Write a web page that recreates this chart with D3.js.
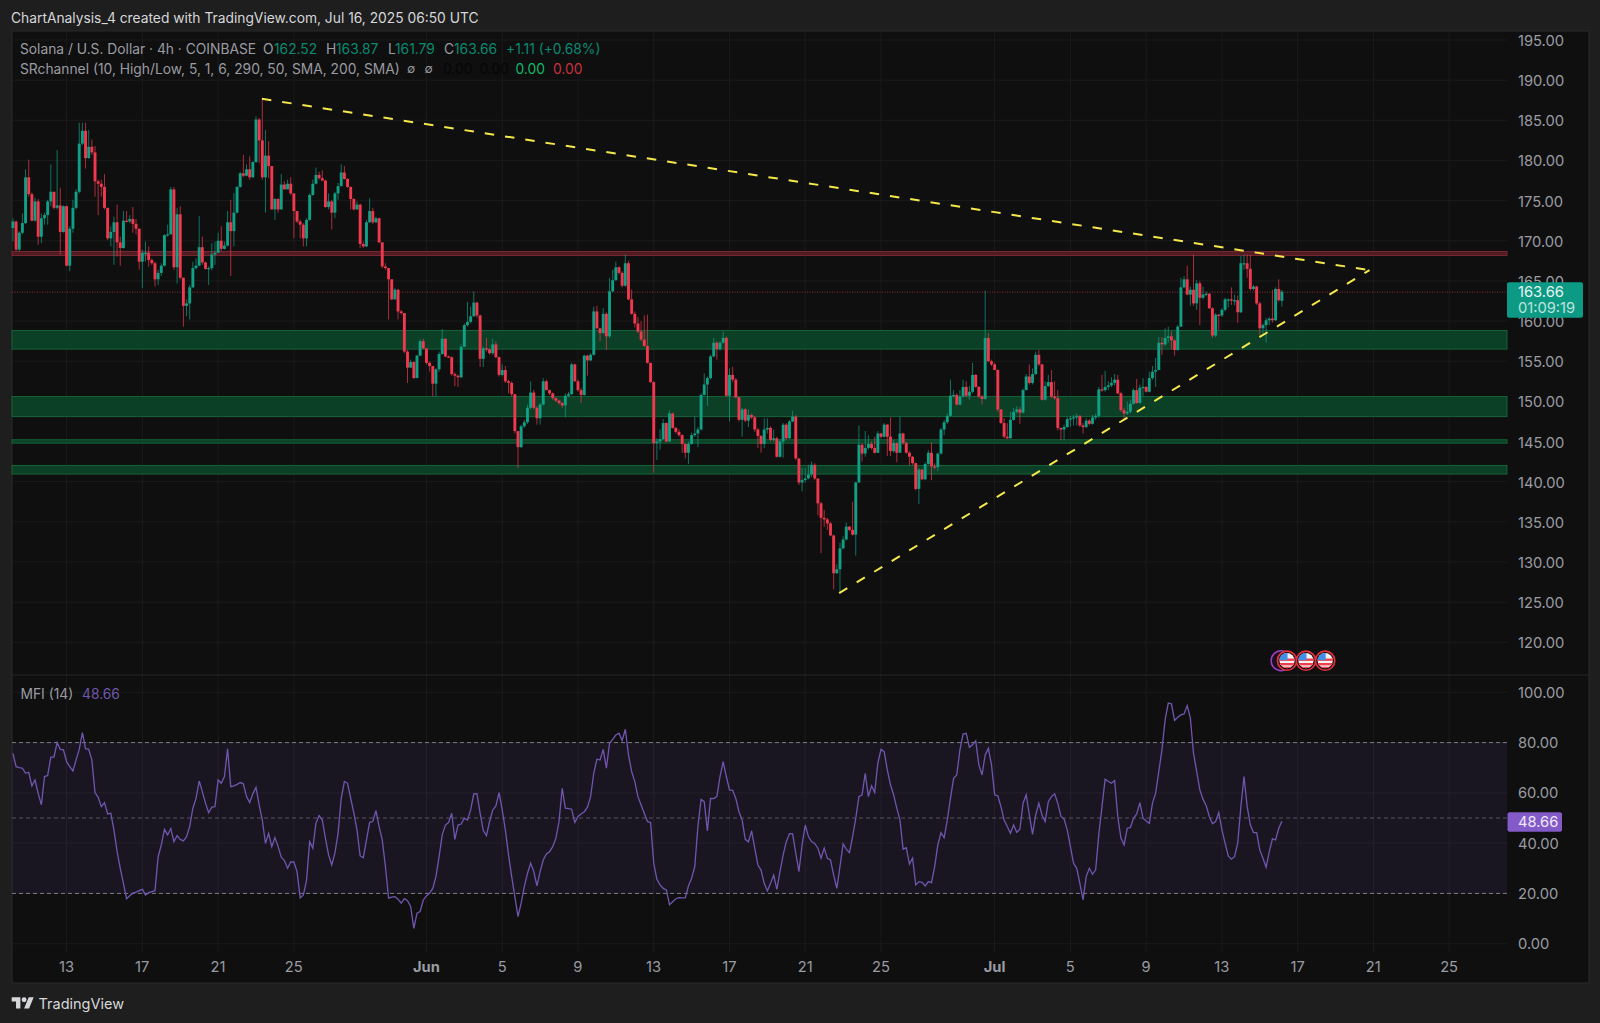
<!DOCTYPE html>
<html><head><meta charset="utf-8">
<script src="https://cdn.jsdelivr.net/npm/d3@7"></script>
<style>html,body{margin:0;padding:0;background:#1e1e1e;overflow:hidden}svg{display:block}text{font-family:Inter,"Noto Sans",sans-serif}</style>
</head><body><svg id="c" width="1600" height="1023"></svg>
<script>
const firstCandle = "2025-05-10T04:00:00Z";
const candleHours = 4;
const closes = [172.4,168.9,171.0,172.2,177.9,175.8,172.5,174.9,170.5,172.8,173.2,174.9,176.1,174.1,174.4,171.1,174.3,166.9,171.5,174.1,176.1,182.1,183.7,180.3,181.7,181.0,177.4,177.1,176.7,174.1,170.3,171.1,172.3,169.8,169.1,172.5,172.4,172.7,172.1,171.5,167.4,168.5,168.5,167.6,167.2,165.2,166.0,166.9,170.7,170.8,176.4,166.7,173.3,165.4,161.9,162.2,164.2,166.6,166.9,169.2,167.3,166.5,166.6,168.3,168.5,170.0,169.0,169.4,172.3,171.2,173.5,176.7,178.4,178.1,178.9,177.9,179.8,185.1,182.5,177.9,180.6,179.3,173.9,175.2,173.9,177.0,176.4,177.1,175.9,173.7,172.4,172.0,170.3,172.6,175.7,177.1,178.2,177.8,177.5,174.2,174.9,173.5,175.9,176.8,178.5,177.7,176.7,175.2,173.9,174.5,169.6,169.3,172.3,173.7,172.3,172.8,169.8,166.8,166.6,165.2,162.7,163.9,161.2,161.0,156.2,154.2,154.9,152.9,
155.7,157.5,156.6,154.8,154.4,152.2,154.0,155.9,157.8,155.6,155.5,153.4,153.2,153.0,156.8,159.5,159.9,160.6,162.3,160.7,155.3,156.6,156.5,156.0,157.1,155.5,153.3,153.9,152.5,152.3,150.9,146.3,144.3,146.9,147.4,149.2,151.1,149.2,147.9,149.6,152.5,151.4,151.0,150.4,150.1,149.8,149.5,150.7,150.9,154.6,152.5,151.4,150.8,155.7,155.1,155.8,161.2,159.1,158.5,160.9,158.1,163.7,165.1,166.7,166.0,164.4,167.2,162.7,160.9,159.7,158.7,157.7,156.9,154.8,152.4,144.8,145.0,145.3,147.3,145.0,148.5,146.7,146.2,145.8,144.7,143.6,144.7,145.8,146.0,146.5,150.8,152.1,152.9,155.6,157.3,156.5,157.3,157.9,150.7,153.3,152.7,150.5,147.7,149.0,147.6,148.3,148.0,146.5,145.7,144.7,146.5,146.7,145.2,145.4,143.1,145.0,147.1,145.4,147.5,148.1,142.9,139.9,
140.2,140.4,140.9,142.1,140.4,137.3,135.5,135.3,134.8,133.3,128.6,129.1,131.7,132.8,134.4,134.0,133.4,139.9,144.6,143.5,144.2,144.7,144.2,143.6,146.0,145.6,147.1,145.6,143.8,144.8,143.6,146.0,144.8,143.6,143.1,142.3,139.1,141.5,140.3,142.2,143.6,141.9,141.8,143.5,146.5,147.4,148.2,150.7,150.8,149.6,150.6,151.8,150.7,151.2,153.3,151.8,150.6,150.3,157.9,155.0,154.6,153.9,149.0,147.3,145.6,145.4,147.7,148.7,149.0,148.6,151.4,153.1,152.3,153.4,155.8,154.6,150.2,151.9,152.4,150.6,150.4,146.7,146.5,146.8,147.8,147.9,148.0,148.2,147.0,146.8,147.6,147.2,148.0,148.2,151.5,151.4,151.8,152.0,152.3,152.7,151.0,148.9,148.5,148.7,149.7,151.4,149.8,151.7,151.8,151.2,152.9,153.7,153.9,157.3,
157.1,157.9,158.1,157.6,156.4,159.3,164.2,165.2,163.3,163.9,162.2,164.7,162.9,163.3,163.4,161.6,158.2,160.8,160.7,161.4,162.7,162.7,162.6,162.6,161.1,167.2,167.2,166.5,164.0,164.3,162.2,159.1,159.5,160.1,160.3,160.1,164.0,162.6,163.66];
const opens = [171.6,172.4,168.9,171.0,172.2,177.9,175.8,172.5,174.9,170.5,172.8,173.2,174.9,176.1,174.1,174.4,171.1,174.3,166.9,171.5,174.1,176.1,182.1,183.7,180.3,181.7,181.0,177.4,177.1,176.7,174.1,170.3,171.1,172.3,169.8,169.1,172.5,172.4,172.7,172.1,171.5,167.4,168.5,168.5,167.6,167.2,165.2,166.0,166.9,170.7,170.8,176.4,166.7,173.3,165.4,161.9,162.2,164.2,166.6,166.9,169.2,167.3,166.5,166.6,168.3,168.5,170.0,169.0,169.4,172.3,171.2,173.5,176.7,178.4,178.1,178.9,177.9,179.8,185.1,182.5,177.9,180.6,179.3,173.9,175.2,173.9,177.0,176.4,177.1,175.9,173.7,172.4,172.0,170.3,172.6,175.7,177.1,178.2,177.8,177.5,174.2,174.9,173.5,175.9,176.8,178.5,177.7,176.7,175.2,173.9,174.5,169.6,169.3,172.3,173.7,172.3,172.8,169.8,166.8,166.6,165.2,162.7,163.9,161.2,161.0,156.2,154.2,154.9,
152.9,155.7,157.5,156.6,154.8,154.4,152.2,154.0,155.9,157.8,155.6,155.5,153.4,153.2,153.0,156.8,159.5,159.9,160.6,162.3,160.7,155.3,156.6,156.5,156.0,157.1,155.5,153.3,153.9,152.5,152.3,150.9,146.3,144.3,146.9,147.4,149.2,151.1,149.2,147.9,149.6,152.5,151.4,151.0,150.4,150.1,149.8,149.5,150.7,150.9,154.6,152.5,151.4,150.8,155.7,155.1,155.8,161.2,159.1,158.5,160.9,158.1,163.7,165.1,166.7,166.0,164.4,167.2,162.7,160.9,159.7,158.7,157.7,156.9,154.8,152.4,144.8,145.0,145.3,147.3,145.0,148.5,146.7,146.2,145.8,144.7,143.6,144.7,145.8,146.0,146.5,150.8,152.1,152.9,155.6,157.3,156.5,157.3,157.9,150.7,153.3,152.7,150.5,147.7,149.0,147.6,148.3,148.0,146.5,145.7,144.7,146.5,146.7,145.2,145.4,143.1,145.0,147.1,145.4,147.5,148.1,142.9,
139.9,140.2,140.4,140.9,142.1,140.4,137.3,135.5,135.3,134.8,133.3,128.6,129.1,131.7,132.8,134.4,134.0,133.4,139.9,144.6,143.5,144.2,144.7,144.2,143.6,146.0,145.6,147.1,145.6,143.8,144.8,143.6,146.0,144.8,143.6,143.1,142.3,139.1,141.5,140.3,142.2,143.6,141.9,141.8,143.5,146.5,147.4,148.2,150.7,150.8,149.6,150.6,151.8,150.7,151.2,153.3,151.8,150.6,150.3,157.9,155.0,154.6,153.9,149.0,147.3,145.6,145.4,147.7,148.7,149.0,148.6,151.4,153.1,152.3,153.4,155.8,154.6,150.2,151.9,152.4,150.6,150.4,146.7,146.5,146.8,147.8,147.9,148.0,148.2,147.0,146.8,147.6,147.2,148.0,148.2,151.5,151.4,151.8,152.0,152.3,152.7,151.0,148.9,148.5,148.7,149.7,151.4,149.8,151.7,151.8,151.2,152.9,153.7,153.9,
157.3,157.1,157.9,158.1,157.6,156.4,159.3,164.2,165.2,163.3,163.9,162.2,164.7,162.9,163.3,163.4,161.6,158.2,160.8,160.7,161.4,162.7,162.7,162.6,162.6,161.1,167.2,167.2,166.5,164.0,164.3,162.2,159.1,159.5,160.1,160.3,160.1,164.0,162.52];
const highs = [172.8,172.5,171.2,173.4,178.9,180.1,176,175.4,175.2,173.4,173.5,175.1,179.5,176.1,181.3,176.6,174.4,174.4,171.8,175.1,176.4,184.7,184.7,184.7,183.8,182.6,181.8,177.6,177.6,178.3,174.1,171.8,173,174.5,170.5,173.7,173.7,173.2,174.2,172.7,171.5,168.9,169.9,169.3,167.8,167.4,166.4,167.2,170.8,172,176.7,176.7,174.1,174.3,165.4,162.7,164.5,167.4,167.8,173.1,170.5,167.4,166.8,169.7,169.9,171,171.8,169.9,173.7,175.1,175.9,176.8,178.6,180.7,179.5,180.5,179.9,185.5,185.3,187.6,183.8,182.4,179.3,175.3,175.3,178.3,177.4,177.6,177.9,175.9,173.7,172.6,172.2,172.8,175.9,177.6,179.1,178.6,178.8,177.6,175.9,175.1,176.1,177.2,179.5,179.3,177.8,176.8,175.3,174.9,174.6,169.9,172.6,175.3,174.1,173,172.9,169.8,167.2,166.6,165.2,164.1,164,161.4,161,156.4,155.2,155,
155.8,157.7,157.8,156.6,155,154.4,154.1,156.2,159,157.8,155.7,155.6,153.6,153.3,157.1,159.7,162.4,161.8,163.7,162.4,160.8,156.8,157.9,156.6,157.8,157.5,155.6,154.6,154.4,152.7,152.5,150.9,146.3,147.1,147.7,149.6,152.5,151.4,149.4,149.8,152.9,152.7,151.5,151.1,150.5,150.2,149.9,151,151.2,154.8,154.7,152.7,151.7,155.8,155.8,156,161.8,161.9,159.2,161.6,161.1,165.4,166.4,167.4,166.8,166.2,168.3,167.5,163.9,161.2,160.5,160,160.7,160.8,154.8,152.5,145.4,146.5,147.8,147.4,148.9,148.6,146.8,146.5,145.9,144.8,145,146.1,148.1,146.8,151,153.5,153.1,155.8,157.9,157.5,157.5,158.7,158.1,154.1,154.3,152.9,150.6,149.2,149.2,149,148.5,148.2,146.7,145.8,147.9,147.9,146.9,146.5,145.6,145.3,147.3,147.3,147.7,148.8,148.3,142.9,
141.7,141.7,142.1,142.5,142.3,140.4,137.5,136.5,135.5,135,133.4,129.7,132.4,133.2,134.9,134.5,137.5,140,147,144.8,146.3,145.8,145,145.6,146.3,146.1,147.3,147.2,148,145.2,144.9,148.1,146.1,145,143.8,143.2,142.4,141.7,141.6,142.4,143.9,144.9,142.3,143.6,146.7,147.7,148.5,152.7,151.4,151,151.4,152.7,152.5,151.9,154.8,153.4,151.9,150.8,163.8,158.5,155.2,154.8,154,149,147.9,147.3,148.7,149.2,149.4,149.3,151.6,153.4,154.6,154.1,156.2,156.4,154.7,152.5,153.3,153.9,152.5,151.4,146.7,147.1,148.1,148.2,148.3,148.5,148.3,147.3,147.9,147.8,148.3,148.5,151.8,153.3,153.8,152.5,153,153.4,153.3,151.2,149.2,150,150.2,151.6,152.8,152.1,152.9,151.9,153.7,154.4,155.4,158,
158,159.1,159.3,158.7,157.7,159.5,165.4,165.6,166.9,164.3,168.3,165.1,165,164.3,163.7,163.5,161.7,161,160.9,161.6,162.9,162.8,164.2,163.3,163.2,168.1,168.3,168.3,168.3,164.5,164.4,162.4,159.7,160.4,160.5,163.9,164.2,165.2,163.87];
const lows = [169.9,168.7,168.7,170.8,172.1,175.5,172.4,172.4,169.5,169.7,172,172,174.3,173.9,173.9,168.3,171,166.8,166.2,171,173.9,175.9,181.9,179,180.2,180.7,175.5,173.2,175.5,173.9,170.1,169.3,167,168,166.9,169,172.3,172.2,171,170.8,166.4,164.1,167.4,166.8,167,164.3,164.5,165.6,166.8,170.5,170.8,166.4,164.7,165.2,159.3,160.6,160.2,164.1,166.4,166.8,167,166.4,164.5,166.3,167,168.5,168.7,168.9,169.3,165.6,169.3,173.4,176.6,177.9,178,177.6,177.8,179.7,179.7,177.6,173.5,177.8,173.9,172.6,173.5,173.9,176.4,176.4,175.7,170.3,172.2,170.3,169.3,169.3,172.5,175.6,177,177.6,177.4,174.1,173.9,171.4,172.8,175.1,176.8,177.6,176.6,173.9,173.8,173.9,169.1,169.1,169.2,172.2,172.1,172.2,169.7,166.6,166.4,160.2,162.6,162.7,160.2,160.8,156,152.3,154.2,152.8,
152.9,155.6,156.5,154.6,153.7,150.6,150.6,153.7,155.8,155.5,155.4,153.2,151.9,151.8,152.9,156.8,159.3,159.7,160.5,160.4,154.3,154.3,156.2,155.8,155.8,155.4,153.1,153.1,152.3,151,150.6,146,141.7,144.2,146.7,147.2,149,149,147.1,147.1,149.5,151.4,150.8,150.2,149.9,149.6,149.2,148,150.5,150.8,152.4,151.2,149.8,150.7,153.2,155,155.7,159,157.5,158.4,156.4,157.9,163.6,165,165.8,164.2,164.3,162.6,160.8,159.2,158.5,157.5,156.8,154.7,152.3,141.1,142.7,144,145.2,144.9,145,146.6,146,145.6,143.6,142.9,142.2,144.6,145.6,144.3,146.4,150.7,149.4,152.7,155.5,155.2,156.3,157.2,150.6,147.5,152.4,150.4,147.5,145.6,147.4,146.8,147.8,146.2,144.2,143.6,144.2,146,145,145,143,143,143,145.2,145.3,147.4,142.7,139.6,
138.8,139.9,140.3,140.6,140.2,135.8,131.1,134.4,134,133.2,126.6,128.5,126.2,131.6,132.7,133.8,133.3,130.8,139.8,142.5,143.1,144,144,143.5,143.6,145.4,145.5,143.2,143.2,143.6,142.4,143.6,144.6,143.5,142,142.1,138.9,137.2,140.2,140.2,142.1,140.2,141.5,141.3,143.4,145.8,147.2,148.1,150.5,149.5,149.5,150.5,150.5,150.2,151,151.7,150.4,149.6,150.2,154.9,154.4,153.9,148.7,147.2,145.4,145.3,145.4,147.6,148.5,147.2,148.5,151.4,152.1,152.1,153.3,154.4,150.1,150.1,151.8,150.4,150.2,146.4,145.2,145.2,146.7,146.8,147,147,146.8,146,146.7,147,147.1,147.7,147.9,151.2,151.2,151.4,151.8,152,150.9,148.7,147.7,148.3,148.5,149.6,149.7,149.7,150.6,151.1,151.1,152.7,151.8,153.9,
155.8,156.9,157.3,156.5,155.7,156.3,159.3,164.1,163.2,161.9,161.9,161.4,159.5,162.7,163.1,161.5,157.9,158,158.9,160.5,161.2,161.7,162,162,159.8,161,166.4,165.4,163.8,163.8,162,158.2,158.2,157.3,159.5,159.8,160,162.4,161.79];
const mfi = [75.7,70.4,70,69.8,67.8,68.2,62.8,65.1,59.8,55.2,66.5,66.9,74.2,74.2,80,77.3,77.1,72.4,70.4,68.7,73.1,77.3,84,77.6,77.3,73.1,60.1,58.2,54.5,56.1,51.6,51.9,45.2,36.6,30,24,17.9,19.1,20.1,20.5,21.1,21.6,19.4,20.3,20.7,21.1,34.6,39.3,45.5,43.3,45.8,40.6,43,41.5,40.9,42.6,46.6,53.9,57.8,64.7,60.5,55.9,52.1,54.3,54.5,65.1,63.8,66.5,77.5,62.5,62.8,63.4,64.1,63.6,58.5,56.1,59.6,62.2,55.2,49.2,39.9,43.9,38.6,42.2,38.6,34.4,33.1,30,32.5,32.5,28.7,18.2,19.4,25.1,40.6,38,47.9,51,49.2,41.9,35.3,31.3,36,43.9,57.8,64.5,63.8,57.8,51.9,45.2,34.9,34.2,41.3,48.3,48.6,52.9,46.6,41.3,30.7,18.1,18.5,18.7,17.7,16.1,17.9,17.1,14.8,6.1,12.1,12.8,17.4,19,20.1,22,26.7,34.6,43.3,47.2,48.2,51.9,41.5,47.2,47.6,49.9,49.2,53.2,59.6,59.7,51.9,45,43,48.6,53.2,54.8,60.1,53.2,45.2,35.3,26.7,18.7,10.8,
16.1,22.7,28,32,28.7,23,28.7,33.3,35.7,36.6,38.6,41.9,48.6,61.8,53.9,53.7,53.5,48.2,50.6,51.6,52.5,54.3,58.5,67.8,73.4,73.1,77.3,69.8,79.7,81.3,83,83.7,80.8,85.3,75.1,68.5,64.5,58.5,55.2,51.9,48.6,48.2,32,25.6,23.4,22,21.4,15.5,16.7,17.9,18.3,18.2,18.2,23,26,30.7,46.6,57.4,56.5,44.9,57.8,57.7,58.5,66.5,72.4,66.5,61.2,61,57.8,52.5,49.2,41.5,40.5,44.9,38,31.3,29.3,24,21,24,27.3,21.6,28.7,35.3,40.6,43.8,43.7,36,28.7,39.3,47.2,42.6,40.6,39.9,38,34,38,34,33.3,27.3,22,30.7,39.7,37.6,36.2,42.6,49.9,58.5,59.2,67.8,58.5,62.8,60.1,71.8,77.3,76.4,69.1,63.2,59.2,53.9,49.2,37.6,38.2,31.7,34,23.4,24.7,24.4,23,24.7,24.3,30.7,39.3,44.2,42.2,49.2,57.8,65.8,67.1,77.1,83.4,83.7,78.1,79.1,80.7,71.1,67.1,75.1,77.7,71.1,59.2,58.8,54.5,49.2,46.6,43.9,47.2,44.3,45.5,
55.9,59.2,51.2,43.5,51.2,55.9,51.2,48.6,56.5,58.5,59.6,55.9,50.6,49.6,45.3,38.6,32,30,24,17.4,26.7,30,27.6,29.4,43.5,54.5,65.4,64.5,63.8,64.9,50.6,42,39.3,45.9,46.2,49.9,51.6,56.1,49.9,48.8,47.9,55.9,59.9,68.5,77.1,89,95.7,95.4,88.8,90.1,91,91.4,94.7,89.7,75.8,68.5,61.2,57.5,55,50.6,47.7,48.6,52.2,45.3,40,34.9,33.6,34.6,40,54.5,66.5,54.5,47.3,44.2,44.2,37.3,34,30.4,36.6,41.7,41.3,45.9,48.66];
const priceTicks = [195,190,185,180,175,170,165,160,155,150,145,140,135,130,125,120];
const mfiTicks = [100,80,60,40,20,0];
const mfiBands = [80,50,20];
const timeTickDates = ["2025-05-13","2025-05-17","2025-05-21","2025-05-25","2025-06-01","2025-06-05","2025-06-09","2025-06-13","2025-06-17","2025-06-21","2025-06-25","2025-07-01","2025-07-05","2025-07-09","2025-07-13","2025-07-17","2025-07-21","2025-07-25"];
const timeTickLabels = ["13","17","21","25","Jun","5","9","13","17","21","25","Jul","5","9","13","17","21","25"];
const greenZones = [[158.83,156.51],[150.6,148.1],[145.22,144.8],[142.02,140.95]];
const redZone = [168.67,168.17];
const lastPrice = 163.66, lastMfi = 48.66;
const fallingTrend = [["2025-05-23T07:30:00Z",187.68],["2025-07-20T19:00:00Z",166.34]];
const risingTrend = [["2025-06-22T19:00:00Z",126.13],["2025-07-20T19:00:00Z",166.34]];
const eventTimes = ["2025-07-16T10:30:00Z","2025-07-17T10:30:00Z","2025-07-18T10:50:00Z"];
const eventRingTime = "2025-07-16T03:00:00Z";

const n = closes.length;
if ([opens.length,highs.length,lows.length,mfi.length].some(l=>l!==n) || n!==403) throw new Error("len "+[closes.length,opens.length,highs.length,lows.length,mfi.length].join(","));

const L=12,R=1589,PR=1507,T=31,B=983,SEP=675,TB=952;
const svg=d3.select("#c");
const x=d3.scaleUtc().domain([new Date("2025-05-13T00:00:00Z"),new Date("2025-07-25T00:00:00Z")]).range([66.6,1449.2]);
const y=d3.scaleLinear().domain([120,195]).range([642.3,40]);
const m=d3.scaleLinear().domain([0,100]).range([943.7,692.3]);
const t0=new Date(firstCandle).getTime();
const tOf=i=>new Date(t0+i*candleHours*3600e3);
const td=timeTickDates.map(d=>new Date(d+"T00:00:00Z"));

svg.append("rect").attr("x",L).attr("y",T).attr("width",R-L).attr("height",B-T).attr("fill","#0f0f0f").attr("stroke","#2a2a2a");
const grid="#1b1b1b";
const g=svg.append("g");
g.selectAll(".v").data(td).join("line").attr("x1",d=>x(d)).attr("x2",d=>x(d)).attr("y1",T).attr("y2",TB).attr("stroke",grid);
g.selectAll(".h").data(priceTicks).join("line").attr("x1",L).attr("x2",PR).attr("y1",d=>y(d)).attr("y2",d=>y(d)).attr("stroke",grid);
g.selectAll(".hm").data(mfiTicks).join("line").attr("x1",L).attr("x2",PR).attr("y1",d=>m(d)).attr("y2",d=>m(d)).attr("stroke",grid);
svg.append("line").attr("x1",L).attr("x2",R).attr("y1",SEP).attr("y2",SEP).attr("stroke","#262626");

// zones
svg.selectAll(".gz").data(greenZones).join("rect").attr("x",L).attr("width",PR-L).attr("y",d=>y(d[0])).attr("height",d=>y(d[1])-y(d[0])).attr("fill","#0b3f26").attr("stroke","#17633a").attr("stroke-width",1);
svg.append("rect").attr("x",L).attr("width",PR-L).attr("y",y(redZone[0])).attr("height",y(redZone[1])-y(redZone[0])).attr("fill","#4f1c24").attr("stroke","#7a2730");
svg.append("line").attr("x1",L).attr("x2",PR).attr("y1",y(lastPrice)+.5).attr("y2",y(lastPrice)+.5).attr("stroke","#8a2f38").attr("stroke-dasharray","1 1.5");

// candles
const up="#10a085",dn="#f0394f";
const idx=d3.range(n);
const col=i=>closes[i]>=opens[i]?up:dn;
svg.append("g").selectAll("line").data(idx).join("line").attr("x1",i=>x(tOf(i))).attr("x2",i=>x(tOf(i))).attr("y1",i=>y(highs[i])).attr("y2",i=>y(lows[i])).attr("stroke",col).attr("stroke-width",1).attr("stroke-opacity",.7);
svg.append("g").selectAll("rect").data(idx).join("rect").attr("x",i=>x(tOf(i))-1.45).attr("width",2.9).attr("y",i=>y(Math.max(opens[i],closes[i]))).attr("height",i=>Math.max(1.2,Math.abs(y(opens[i])-y(closes[i])))).attr("fill",col);

// trend lines
const tl=d3.line().x(d=>x(new Date(d[0]))).y(d=>y(d[1]));
[fallingTrend,risingTrend].forEach(s=>svg.append("path").attr("d",tl(s)).attr("fill","none").attr("stroke","#f5e84a").attr("stroke-width",2).attr("stroke-dasharray","9.5 11"));

// events
const evG=svg.append("g");
evG.append("circle").attr("cx",x(new Date(eventRingTime))).attr("cy",660.7).attr("r",10).attr("fill","#1a1020").attr("stroke","#9c3fbf").attr("stroke-width",1.5);
const defs=svg.append("defs");
eventTimes.forEach((d,k)=>{
  const cx=x(new Date(d)),cy=660.7;
  defs.append("clipPath").attr("id","f"+k).append("circle").attr("cx",cx).attr("cy",cy).attr("r",7.6);
  const f=evG.append("g");
  f.append("circle").attr("cx",cx).attr("cy",cy).attr("r",9.6).attr("fill","#1a0b0e").attr("stroke","#e5323e").attr("stroke-width",1.6);
  const c=f.append("g").attr("clip-path",`url(#f${k})`);
  c.append("rect").attr("x",cx-8).attr("y",cy-8).attr("width",16).attr("height",16).attr("fill","#f4f4f4");
  [-1.2,3.3,7].forEach(o=>c.append("rect").attr("x",cx-8).attr("y",cy+o-1).attr("width",16).attr("height",2.4).attr("fill","#f0404e"));
  c.append("rect").attr("x",cx-8).attr("y",cy-8).attr("width",8.5).attr("height",7.5).attr("fill","#3f8fe8");
});

// MFI
svg.append("rect").attr("x",L).attr("width",PR-L).attr("y",m(80)).attr("height",m(20)-m(80)).attr("fill","#7e57c2").attr("fill-opacity",.1);
svg.selectAll(".b").data(mfiBands).join("line").attr("x1",L).attr("x2",PR).attr("y1",d=>m(d)).attr("y2",d=>m(d)).attr("stroke",d=>d===50?"#55525e":"#7d7a86").attr("stroke-dasharray","4 3");
svg.append("path").attr("d",d3.line().x((v,i)=>x(tOf(i))).y(v=>m(v))(mfi)).attr("fill","none").attr("stroke","#7156b0").attr("stroke-width",1.3);

// axes
const axC="#9a9ca3",axF=14.7;
const styleAxis=(s)=>{s.select(".domain").remove();s.selectAll(".tick line").remove();s.selectAll("text").attr("fill",axC).attr("font-size",axF).attr("font-family",'Inter,"Noto Sans",sans-serif');};
svg.append("g").attr("transform",`translate(${1518},0.8)`).call(d3.axisRight(y).tickValues(priceTicks).tickFormat(d3.format(".2f")).tickSize(0).tickPadding(0)).call(styleAxis);
svg.append("g").attr("transform",`translate(${1518},0.3)`).call(d3.axisRight(m).tickValues(mfiTicks).tickFormat(d3.format(".2f")).tickSize(0).tickPadding(0)).call(styleAxis);
svg.append("g").attr("transform",`translate(-0.6,${962})`).call(d3.axisBottom(x).tickValues(td).tickFormat((d,i)=>timeTickLabels[i]).tickSize(0).tickPadding(0)).call(styleAxis)
  .selectAll("text").attr("font-weight",(d,i)=>/J/.test(timeTickLabels[i])?700:400);

// price tags
svg.append("rect").attr("x",1507).attr("y",282.3).attr("width",76).attr("height",35.4).attr("rx",2).attr("fill","#0c9a84");
svg.append("text").attr("x",1518).attr("y",292).attr("dy",".35em").attr("fill","#e8f4f1").attr("font-size",axF).text(lastPrice.toFixed(2));
svg.append("text").attr("x",1518).attr("y",308).attr("dy",".35em").attr("fill","#bfe3dc").attr("font-size",axF).text("01:09:19");
svg.append("rect").attr("x",1507.5).attr("y",812.3).attr("width",54.5).attr("height",19.4).attr("rx",2).attr("fill","#8459c8");
svg.append("text").attr("x",1518).attr("y",822).attr("dy",".35em").attr("fill","#efe9f8").attr("font-size",axF).text(lastMfi.toFixed(2));

// header & legends
const txt=(s,px,py,c,fs=13.8,w=400)=>svg.append("text").attr("x",px).attr("y",py).attr("dy",".35em").attr("fill",c).attr("font-size",fs).attr("font-weight",w).text(s);
txt("ChartAnalysis_4 created with TradingView.com, Jul 16, 2025 06:50 UTC",11,18,"#d6d7da",13.8);
const lg="#9a9ca3",tl2="#0b8a72";
txt("Solana / U.S. Dollar · 4h · COINBASE",20,49,lg);
txt("O",263,49,lg);txt("162.52",274,49,tl2);
txt("H",326,49,lg);txt("163.87",336,49,tl2);
txt("L",388,49,lg);txt("161.79",395,49,tl2);
txt("C",444,49,lg);txt("163.66",454,49,tl2);
txt("+1.11 (+0.68%)",506,49,tl2);
txt("SRchannel (10, High/Low, 5, 1, 6, 290, 50, SMA, 200, SMA)",20,69,lg);
txt("∅",407,69,lg,12);txt("∅",424.5,69,lg,12);
txt("0.00",443,69,"#050505");txt("0.00",479.6,69,"#050505");
txt("0.00",515.5,69,"#12b76a");txt("0.00",553,69,"#c9303f");
txt("MFI (14)",20.5,694,lg);txt("48.66",82,694,"#6f58ab");

// footer
const logo=svg.append("g").attr("transform","translate(11.7,994.8) scale(.62)").attr("fill","#d6d7da");
logo.append("path").attr("d","M14 22H7V11H0V4h14v18zM28 22h-8l7.5-18h8L28 22z");
logo.append("circle").attr("cx",20).attr("cy",8).attr("r",4);
txt("TradingView",38.5,1004,"#d6d7da",14.5,400);
</script></body></html>
